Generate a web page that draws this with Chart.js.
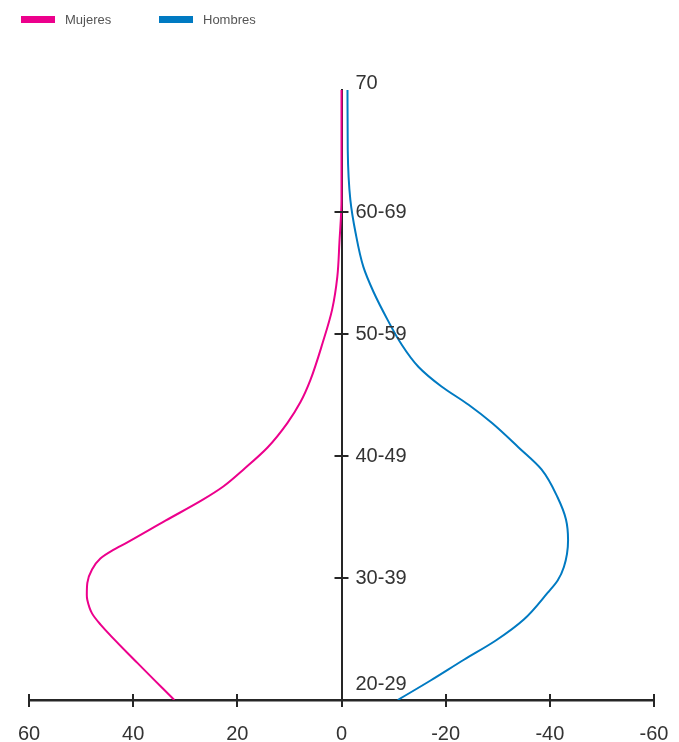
<!DOCTYPE html>
<html>
<head>
<meta charset="utf-8">
<title>Mujeres / Hombres</title>
<script src="https://cdn.jsdelivr.net/npm/chart.js@4.4.1/dist/chart.umd.min.js"></script>
<style>
  html, body { margin: 0; padding: 0; background: #fff; }
  #wrap { position: relative; width: 679px; height: 742px; }
  .key { position: absolute; top: 12px; font: 13px "Liberation Sans", Arial, sans-serif; color: #555; line-height: 15px; }
  .key span { display: inline-block; width: 34px; height: 7px; vertical-align: middle; margin-right: 10px; position: relative; top: -1px; }
</style>
</head>
<body>
<div id="wrap">
  <canvas id="myChart" width="679" height="742"></canvas>
  <div class="key" style="left:21px"><span style="background:#ec008c"></span>Mujeres</div>
  <div class="key" style="left:159px"><span style="background:#007ac2"></span>Hombres</div>
</div>
<script>
'use strict';

// edad (eje vertical) y valores
let mujeresEdad = [20, 23, 26.2, 27.1, 28.2, 28.6, 29.6, 30.7, 31.6, 32.3, 32.9, 34.7, 36.4, 37.5, 38.9, 40.7, 42.7, 44.4, 46.2, 49.3, 52.0, 54.7, 57.5, 61.0, 70];
let mujeresValor = [32.1, 39.1, 46.3, 47.9, 48.8, 48.9, 48.8, 47.9, 46.3, 43.8, 41.2, 33.8, 26.7, 22.7, 18.8, 14.2, 10.4, 7.9, 6.0, 3.6, 1.8, 0.8, 0.4, 0, 0];

let hombresEdad = [20, 21.6, 23.3, 24.9, 26.6, 28.8, 29.8, 30.9, 33.1, 34.8, 36.6, 38.9, 40.7, 42.7, 44.2, 45.7, 47.3, 49.3, 51.2, 53.4, 55.5, 58.3, 61.0, 65.1, 70];
let hombresValor = [-10.8, -17.1, -23.5, -29.7, -35.0, -39.6, -41.5, -42.7, -43.5, -43.1, -41.5, -38.4, -34.0, -28.9, -24.4, -19.2, -14.8, -11.3, -8.8, -6.2, -4.2, -2.7, -1.7, -1.2, -1.15];

// etiquetas del eje vertical
let yTickValues = [20, 30, 40, 50, 60, 70];
let yTickLabels = ['20-29', '30-39', '40-49', '50-59', '60-69', '70'];

let axisColor = '#262626';
let textColor = '#333';

function toPoints(edades, valores) {
  let pts = [];
  for (let i = 0; i < edades.length; i++) {
    pts.push({ x: valores[i], y: edades[i] });
  }
  return pts;
}

// marcas en cruz y etiquetas del eje central
let centreAxis = {
  id: 'centreAxis',
  afterDraw(chart) {
    let ctx = chart.ctx;
    let xs = chart.scales.x;
    let ys = chart.scales.y;
    let x0 = xs.getPixelForValue(0);
    let yb = ys.getPixelForValue(20);
    ctx.save();
    ctx.strokeStyle = axisColor;
    ctx.lineWidth = 2;
    xs.ticks.forEach(t => {
      let px = Math.round(xs.getPixelForValue(t.value));
      ctx.beginPath();
      ctx.moveTo(px, yb - 6);
      ctx.lineTo(px, yb + 7);
      ctx.stroke();
    });
    for (let v of [30, 40, 50, 60]) {
      let py = Math.round(ys.getPixelForValue(v));
      ctx.beginPath();
      ctx.moveTo(x0 - 7, py);
      ctx.lineTo(x0 + 7, py);
      ctx.stroke();
    }
    ctx.fillStyle = textColor;
    ctx.font = '20px "Liberation Sans", Arial, sans-serif';
    ctx.textAlign = 'left';
    ctx.textBaseline = 'middle';
    for (let i = 0; i < yTickValues.length; i++) {
      let py = ys.getPixelForValue(yTickValues[i]);
      if (yTickValues[i] === 70) py -= 7;
      if (yTickValues[i] === 20) py -= 16;
      ctx.fillText(yTickLabels[i], x0 + 14, py);
    }
    ctx.restore();
  }
};

let chartObject = {
  type: 'scatter',
  data: {
    datasets: [{
      label: 'Mujeres',
      data: toPoints(mujeresEdad, mujeresValor),
      showLine: true,
      borderColor: '#ec008c',
      borderWidth: 2,
      pointRadius: 0,
      cubicInterpolationMode: 'monotone'
    },
    {
      label: 'Hombres',
      data: toPoints(hombresEdad, hombresValor),
      showLine: true,
      borderColor: '#007ac2',
      borderWidth: 2,
      pointRadius: 0,
      cubicInterpolationMode: 'monotone'
    }]
  },
  options: {
    indexAxis: 'y',
    responsive: false,
    animation: false,
    layout: { padding: { left: 29, right: 25, top: 90, bottom: 0 } },
    plugins: {
      legend: { display: false },
      tooltip: { enabled: false }
    },
    scales: {
      x: {
        type: 'linear',
        reverse: true,
        min: -60,
        max: 60,
        afterFit(scale) {
          scale.height = 42;
          scale.paddingLeft = 0;
          scale.paddingRight = 0;
        },
        grid: { display: false, drawTicks: false },
        border: { color: axisColor, width: 2.5 },
        ticks: {
          stepSize: 20,
          padding: 22,
          color: textColor,
          font: { family: '"Liberation Sans", Arial, sans-serif', size: 20 }
        }
      },
      y: {
        type: 'linear',
        min: 20,
        max: 70,
        position: { x: 0 },
        grid: { display: false, drawTicks: false },
        border: { color: axisColor, width: 2 },
        ticks: { display: false, stepSize: 10 }
      }
    }
  },
  plugins: [centreAxis]
};

let ctx = document.getElementById('myChart').getContext('2d');
let myChart = new Chart(ctx, chartObject);
</script>
</body>
</html>
